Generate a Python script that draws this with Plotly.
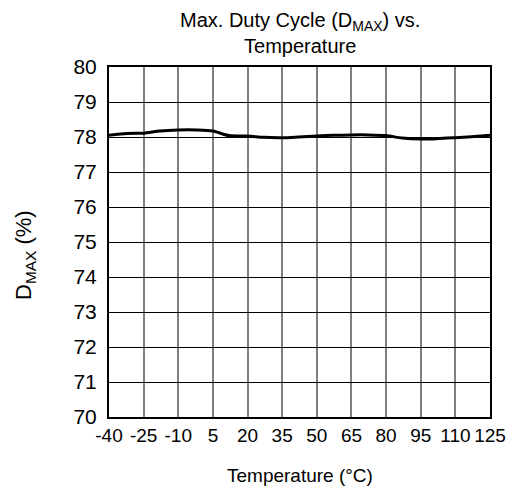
import plotly.graph_objects as go

temps = [-40, -32, -25, -18, -10, -2, 5, 12, 20, 27, 35, 42, 50, 57, 65, 72, 80, 87, 95, 102, 110, 117, 125]
dmax = [78.05, 78.1, 78.11, 78.17, 78.2, 78.2, 78.17, 78.04, 78.03, 77.99, 77.98, 78.0, 78.03, 78.05, 78.06, 78.06, 78.04, 77.97, 77.94, 77.95, 77.98, 78.01, 78.05]
xticks = [-40, -25, -10, 5, 20, 35, 50, 65, 80, 95, 110, 125]
yticks = [70, 71, 72, 73, 74, 75, 76, 77, 78, 79, 80]

FONT = "Liberation Sans, Arial, sans-serif"

fig = go.Figure()
fig.add_trace(go.Scatter(x=temps, y=dmax, mode="lines",
                         line=dict(color="black", width=3, shape="spline", smoothing=0.8),
                         showlegend=False, hoverinfo="skip"))

fig.update_layout(
    width=511, height=485,
    margin=dict(l=101, r=29, t=59, b=76, autoexpand=False),
    paper_bgcolor="white", plot_bgcolor="white",
    font=dict(family=FONT, color="black"),
    xaxis=dict(range=[-40, 125], tickvals=xticks, ticktext=[str(t) for t in xticks],
               showgrid=True, gridcolor="#808080", gridwidth=1.5,
               showline=True, linecolor="black", linewidth=2, mirror=True,
               ticks="", tickangle=0, tickfont=dict(size=19, family=FONT), zeroline=False),
    yaxis=dict(range=[70, 80], tickvals=yticks,
               showgrid=True, gridcolor="black", gridwidth=1,
               showline=True, linecolor="black", linewidth=2, mirror=True,
               ticks="outside", ticklen=6, tickcolor="rgba(0,0,0,0)",
               tickfont=dict(size=21, family=FONT), zeroline=False),
    annotations=[
        dict(text="Max. Duty Cycle (D<sub>MAX</sub>) vs.<br>Temperature", x=0.5, y=1.097,
             xref="paper", yref="paper", xanchor="center", yanchor="middle",
             showarrow=False, font=dict(size=20, family=FONT)),
        dict(text="Temperature (°C)", x=0.5, y=-0.166, xref="paper", yref="paper",
             xanchor="center", yanchor="middle", showarrow=False,
             font=dict(size=19, family=FONT)),
        dict(text="D<sub>MAX</sub> (%)", x=-0.2205, y=0.463, xref="paper", yref="paper",
             xanchor="center", yanchor="middle",
             showarrow=False, textangle=-90, font=dict(size=22, family=FONT)),
    ],
)

fig.write_html("out.html")
